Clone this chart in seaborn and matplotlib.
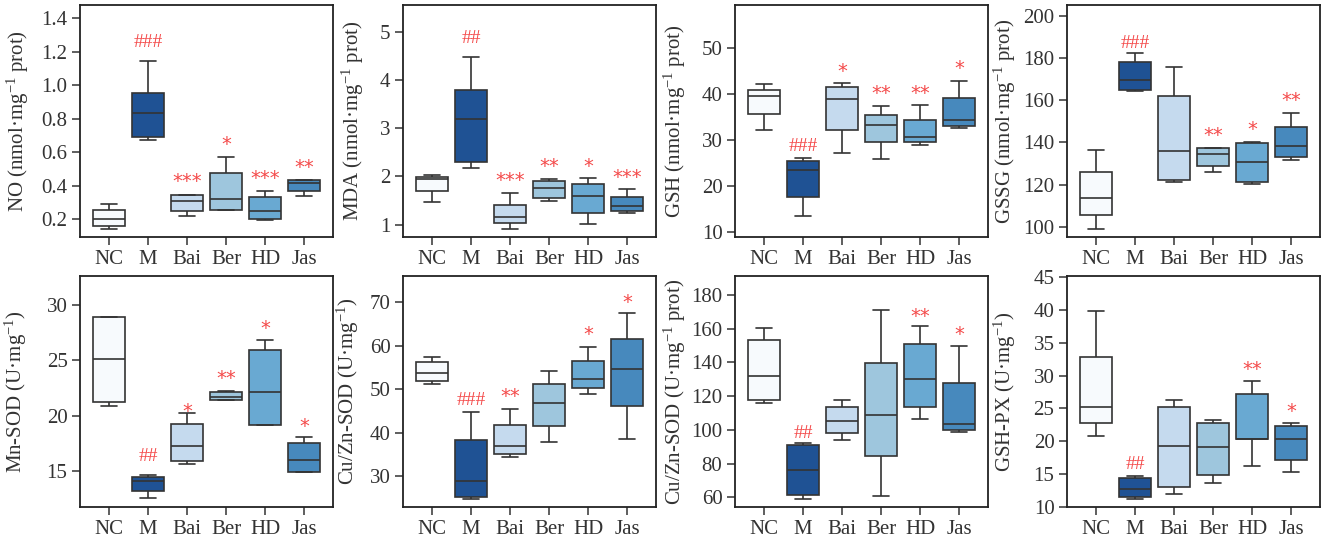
import numpy as np
import pandas as pd
import seaborn as sns
import matplotlib.pyplot as plt

groups = ["NC", "M", "Bai", "Ber", "HD", "Jas"]
box_colors = ["#f7fafd", "#1f5294", "#c5daee", "#9ec6dd", "#69a9d2", "#4789bd"]

# five-number summaries: min, q1, median, q3, max (one row per group)
no_vals = [[0.144, 0.162, 0.200, 0.254, 0.294],
           [0.674, 0.689, 0.832, 0.955, 1.147],
           [0.220, 0.248, 0.310, 0.346, 0.347],
           [0.254, 0.255, 0.320, 0.475, 0.573],
           [0.198, 0.202, 0.252, 0.334, 0.370],
           [0.336, 0.366, 0.415, 0.433, 0.437]]
mda_vals = [[1.47, 1.69, 1.94, 1.99, 2.03],
            [2.18, 2.30, 3.18, 3.78, 4.47],
            [0.91, 1.035, 1.15, 1.41, 1.66],
            [1.48, 1.55, 1.75, 1.91, 1.95],
            [1.01, 1.24, 1.60, 1.84, 1.96],
            [1.25, 1.28, 1.38, 1.58, 1.73]]
gsh_vals = [[32.2, 35.6, 39.4, 40.9, 42.1],
            [13.5, 17.6, 23.4, 25.5, 26.1],
            [27.2, 32.1, 38.9, 41.5, 42.3],
            [25.9, 29.5, 33.2, 35.4, 37.4],
            [28.8, 29.5, 30.6, 34.3, 37.6],
            [32.6, 33.0, 34.3, 39.0, 42.8]]
gssg_vals = [[99.0, 105.5, 113.9, 126.1, 136.5],
             [164.3, 164.9, 169.7, 178.0, 182.1],
             [121.3, 122.3, 136.0, 162.2, 175.8],
             [126.2, 129.1, 134.4, 137.3, 137.4],
             [120.5, 121.5, 130.8, 139.8, 140.3],
             [131.9, 133.3, 138.1, 147.4, 154.0]]
mnsod_vals = [[20.9, 21.25, 25.16, 28.86, 28.9],
              [12.55, 13.2, 14.13, 14.52, 14.64],
              [15.66, 15.9, 17.24, 19.27, 20.22],
              [21.42, 21.43, 21.69, 22.17, 22.26],
              [19.15, 19.2, 22.17, 25.93, 26.86],
              [14.91, 14.97, 16.0, 17.54, 18.05]]
cuzn_vals = [[51.2, 51.8, 53.7, 56.3, 57.5],
             [24.9, 25.3, 28.9, 38.4, 44.7],
             [34.4, 35.2, 37.0, 41.7, 45.5],
             [37.8, 41.5, 46.8, 51.2, 54.3],
             [49.0, 50.2, 52.4, 56.4, 59.6],
             [38.6, 46.1, 54.7, 61.5, 67.4]]
cuznp_vals = [[116.2, 117.6, 132.1, 153.1, 160.2],
              [58.8, 61.6, 76.4, 90.9, 92.5],
              [94.3, 98.0, 105.6, 113.5, 117.8],
              [61.0, 84.6, 108.7, 139.8, 171.1],
              [106.3, 113.5, 130.3, 150.7, 161.8],
              [98.6, 100.2, 103.8, 127.9, 149.9]]
gshpx_vals = [[20.8, 22.7, 25.25, 32.9, 39.8],
              [11.2, 11.4, 12.7, 14.3, 14.7],
              [11.9, 13.0, 19.2, 25.25, 26.3],
              [13.6, 14.85, 19.1, 22.7, 23.3],
              [16.2, 20.4, 20.4, 27.2, 29.2],
              [15.3, 17.1, 20.4, 22.3, 22.7]]

# significance marks and their heights
no_marks, no_mark_y = ["", "###", "***", "*", "***", "**"], [None, 1.27, 0.453, 0.673, 0.473, 0.537]
mda_marks, mda_mark_y = ["", "##", "***", "**", "*", "***"], [None, 4.91, 2.01, 2.30, 2.30, 2.08]
gsh_marks, gsh_mark_y = ["", "###", "*", "**", "**", "*"], [None, 29.1, 45.9, 41.0, 41.2, 46.6]
gssg_marks, gssg_mark_y = ["", "###", "", "**", "*", "**"], [None, 187.7, None, 145.5, 148.5, 162.1]
mnsod_marks, mnsod_mark_y = ["", "##", "*", "**", "*", "*"], [None, 16.5, 20.8, 23.8, 28.3, 19.5]
cuzn_marks, cuzn_mark_y = ["", "###", "**", "", "*", "*"], [None, 48.0, 49.4, None, 63.6, 71.1]
cuznp_marks, cuznp_mark_y = ["", "##", "", "", "**", "*"], [None, 99.2, None, None, 170.0, 159.6]
gshpx_marks, gshpx_mark_y = ["", "##", "", "", "**", "*"], [None, 16.8, None, None, 31.7, 25.2]

ylabels = ["NO (nmol·mg$^{-1}$ prot)", "MDA (nmol·mg$^{-1}$ prot)",
           "GSH (nmol·mg$^{-1}$ prot)", "GSSG (nmol·mg$^{-1}$ prot)",
           "Mn-SOD (U·mg$^{-1}$)", "Cu/Zn-SOD (U·mg$^{-1}$)",
           "Cu/Zn-SOD (U·mg$^{-1}$ prot)", "GSH-PX (U·mg$^{-1}$)"]

panels = [
    (no_vals, no_marks, no_mark_y, (0.094, 1.48), np.arange(0.2, 1.41, 0.2), "%.1f"),
    (mda_vals, mda_marks, mda_mark_y, (0.744, 5.55), np.arange(1, 6, 1), "%d"),
    (gsh_vals, gsh_marks, gsh_mark_y, (8.98, 59.2), np.arange(10, 51, 10), "%d"),
    (gssg_vals, gssg_marks, gssg_mark_y, (95.3, 205), np.arange(100, 201, 20), "%d"),
    (mnsod_vals, mnsod_marks, mnsod_mark_y, (11.77, 32.6), np.arange(15, 31, 5), "%d"),
    (cuzn_vals, cuzn_marks, cuzn_mark_y, (22.96, 76.0), np.arange(30, 71, 10), "%d"),
    (cuznp_vals, cuznp_marks, cuznp_mark_y, (54.3, 191.3), np.arange(60, 181, 20), "%d"),
    (gshpx_vals, gshpx_marks, gshpx_mark_y, (9.95, 45.2), np.arange(10, 46, 5), "%d"),
]

sns.set_style("white")
plt.rcParams["font.family"] = ["Liberation Serif", "DejaVu Serif"]
plt.rcParams["mathtext.default"] = "regular"
text_col = "#333333"

W, H = 1324, 548
fig = plt.figure(figsize=(W / 100, H / 100), dpi=100)
col_left = [80, 403, 735, 1067]
ax_w = 253
row_top = [5, 276]
ax_h = [232, 231]
label_off = [-49, -37, -47, -49, -51, -42, -47, -49]

pal = dict(zip(groups, box_colors))
for i, (vals, marks, mark_y, ylim, ticks, fmt) in enumerate(panels):
    r, c = divmod(i, 4)
    ax = fig.add_axes([col_left[c] / W, (H - row_top[r] - ax_h[r]) / H, ax_w / W, ax_h[r] / H])
    df = pd.DataFrame({"group": np.repeat(groups, 5), "value": np.ravel(vals)})
    sns.boxplot(data=df, x="group", y="value", hue="group", order=groups, palette=pal,
                saturation=1, width=0.8, whis=(0, 100), showfliers=False,
                linecolor="#333333", linewidth=1.2, legend=False, ax=ax)
    for j, (m, y) in enumerate(zip(marks, mark_y)):
        if not m:
            continue
        if m[0] == "*":
            ax.annotate(m, (j, y), xytext=(0, -7.5), textcoords="offset points",
                        ha="center", va="baseline", color="#f44a4a",
                        fontsize=14, family="DejaVu Sans")
        else:
            ax.annotate(m, (j, y), xytext=(0, -4.8), textcoords="offset points",
                        ha="center", va="baseline", color="#f44a4a", fontsize=14)
    ax.set_xlim(-0.74, 5.74)
    ax.set_ylim(*ylim)
    ax.set_yticks(ticks)
    ax.set_yticklabels([fmt % t for t in ticks])
    ax.set_xlabel("")
    ax.set_ylabel(ylabels[i], fontsize=15, color=text_col)
    ax.yaxis.set_label_coords(label_off[i] / ax_w, 0.5)
    ax.tick_params(axis="both", which="both", direction="out", length=6, width=1.1,
                   color="#333333", labelsize=15, labelcolor=text_col, pad=3,
                   left=True, bottom=True)
    for s in ax.spines.values():
        s.set_visible(True)
        s.set_color("#222222")
        s.set_linewidth(1.3)

fig.savefig("out.png", dpi=100)
